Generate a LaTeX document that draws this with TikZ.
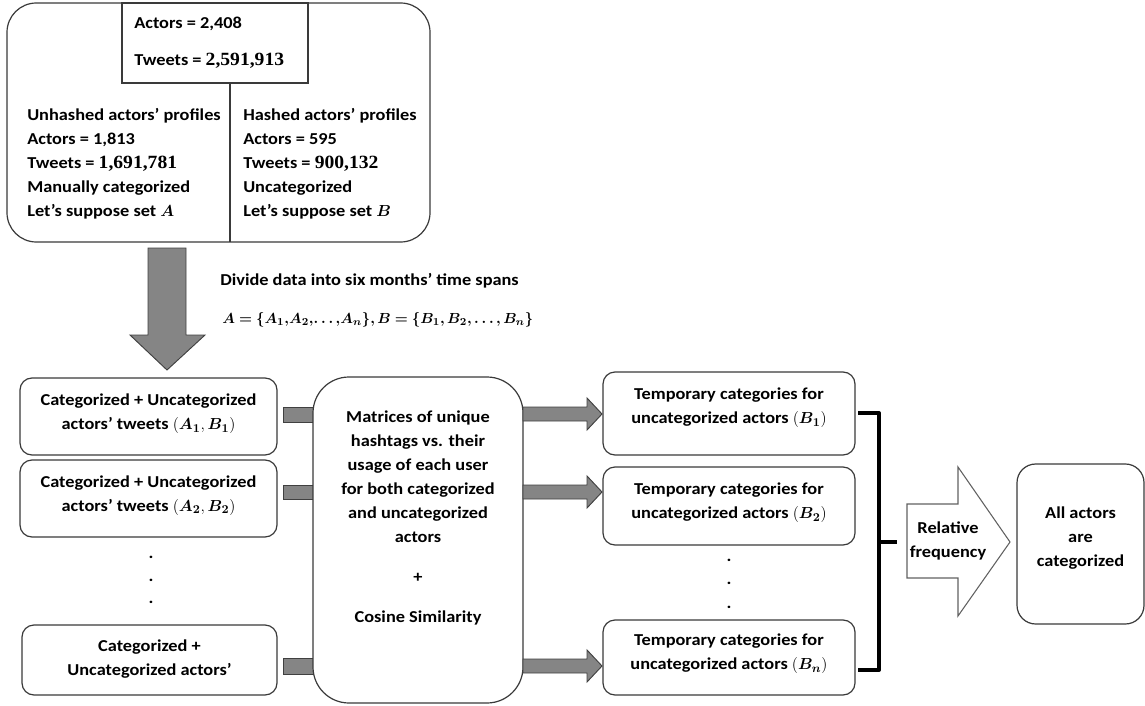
\documentclass[tikz,border=0pt]{standalone}
\usepackage{fontspec}
\usepackage{amsmath}
\usepackage{bm}
\setmainfont[FakeStretch=1.1]{Carlito}
\newfontfamily\serifnum[FakeStretch=1.05]{Liberation Serif}
\usetikzlibrary{calc}
\definecolor{linec}{HTML}{3A3A3A}
\definecolor{arrfill}{HTML}{858585}
\definecolor{arrline}{HTML}{404040}
\newcommand{\num}[1]{{\serifnum\bfseries\fontsize{14}{16}\selectfont #1}}
\tikzset{
  txt/.style={font=\bfseries\fontsize{12.5}{18}\selectfont, inner sep=0pt},
  rbox/.style={draw=linec, line width=0.9pt, fill=white, rounded corners=9pt, inner sep=0pt},
  garrow/.style={fill=arrfill, draw=arrline, line width=0.7pt},
  brace/.style={line width=3pt, line join=round},
}
\begin{document}
\begin{tikzpicture}[x=0.75pt,y=-0.75pt]
\useasboundingbox (0,0) rectangle (1145,706);
% ---------- top block
\node[rbox, rounded corners=22pt, minimum width=423*0.75pt, minimum height=239*0.75pt] (top) at (218.5,122.5) {};
\node[draw=linec, line width=0.9pt, fill=white, minimum width=186*0.75pt, minimum height=80*0.75pt, inner sep=0pt] (tot) at (215,43) {};
\coordinate (divt) at (230,83);
\coordinate (divb) at (230,242);
\draw[linec, line width=0.9pt] (divt) -- (divb);
\node[txt, anchor=west] (tot1) at (134,24) {Actors = 2,408};
\node[txt, anchor=west] (tot2) at (134,61) {Tweets = \num{2,591,913}};
\node[txt, anchor=north west, align=left] (colA) at (27,108) {Unhashed actors’ profiles\\Actors = 1,813\\Tweets = \num{1,691,781}\\Manually categorized\\Let’s suppose set $\bm{A}$};
\node[txt, anchor=north west, align=left] (colB) at (243,108) {Hashed actors’ profiles\\Actors = 595\\Tweets = \num{900,132}\\Uncategorized\\Let’s suppose set $\bm{B}$};
% ---------- down arrow
\draw[garrow] (148,248) -- (186,248) -- (186,335) -- (205,335) -- (167,370) -- (130,335) -- (148,335) -- cycle;
\node[txt, anchor=west] (divide) at (220,281) {Divide data into six months’ time spans};
\node[txt, anchor=west, font=\bfseries\fontsize{11.2}{14}\selectfont] (sets) at (222,320) {$\bm{A=\{A_1,\!A_2,\!\ldots,\!A_n\},B=\{B_1,B_2,\ldots,B_n\}}$};
% ---------- left arrows (behind the middle box)
\draw[garrow] (283,407) rectangle (318,422);
\draw[garrow] (283,485) rectangle (318,499);
\draw[garrow] (283,658) rectangle (318,674);
% ---------- left boxes
\node[rbox, minimum width=257*0.75pt, minimum height=77*0.75pt] (L1) at (148.5,416.5) {};
\node[txt, align=center] (L1t) at (148.5,414) {Categorized + Uncategorized\\actors’ tweets $(\bm{A_1},\bm{B_1})$};
\node[rbox, minimum width=257*0.75pt, minimum height=77*0.75pt] (L2) at (148.5,498.5) {};
\node[txt, align=center] (L2t) at (148.5,495.5) {Categorized + Uncategorized\\actors’ tweets $(\bm{A_2},\bm{B_2})$};
\node[txt] (Ld1) at (151,557) {.};
\node[txt] (Ld2) at (151,580) {.};
\node[txt] (Ld3) at (151,602) {.};
\node[rbox, minimum width=255*0.75pt, minimum height=70*0.75pt] (L3) at (149.5,660) {};
\node[txt, align=center] (L3t) at (149.5,659) {Categorized +\\Uncategorized actors’};
% ---------- middle box
\node[rbox, rounded corners=27pt, minimum width=210*0.75pt, minimum height=326*0.75pt] (mid) at (418,540) {};
\node[txt, align=center, anchor=north] (midt) at (418,411) {Matrices of unique\\hashtags vs. their\\usage of each user\\for both categorized\\and uncategorized\\actors\\[12pt]+\\[12pt]Cosine Similarity};
% ---------- right arrows
\draw[garrow] (523,407) -- (587,407) -- (587,398) -- (602,414) -- (587,430) -- (587,421) -- (523,421) -- cycle;
\draw[garrow] (523,485) -- (587,485) -- (587,476) -- (602,492) -- (587,508) -- (587,499) -- (523,499) -- cycle;
\draw[garrow] (523,659) -- (587,659) -- (587,650) -- (602,666) -- (587,682) -- (587,673) -- (523,673) -- cycle;
% ---------- right boxes
\node[rbox, minimum width=252*0.75pt, minimum height=83*0.75pt] (R1) at (729,413.5) {};
\node[txt, align=center] (R1t) at (729,408) {Temporary categories for\\uncategorized actors $(\bm{B_1})$};
\node[rbox, minimum width=252*0.75pt, minimum height=78*0.75pt] (R2) at (729,506) {};
\node[txt, align=center] (R2t) at (729,503) {Temporary categories for\\uncategorized actors $(\bm{B_2})$};
\node[txt] (Rd1) at (729,560) {.};
\node[txt] (Rd2) at (729,583) {.};
\node[txt] (Rd3) at (729,607) {.};
\node[rbox, minimum width=252*0.75pt, minimum height=75*0.75pt] (R3) at (729,657.5) {};
\node[txt, align=center] (R3t) at (729,654) {Temporary categories for\\uncategorized actors $(\bm{B_n})$};
% ---------- brace
\coordinate (bt) at (858,413);
\coordinate (bb) at (858,670);
\coordinate (bm) at (897,542);
\draw[brace] (bt) -- (879,413) -- (879,670) -- (bb);
\draw[brace] (879,542) -- (bm);
% ---------- big outline arrow
\draw[fill=white, draw=linec!80, line width=0.8pt] (907,504) -- (958,504) -- (958,467) -- (1010,542) -- (958,616) -- (958,578) -- (907,578) -- cycle;
\node[txt, align=center] (rel) at (948,541) {Relative\\frequency};
% ---------- final box
\node[rbox, rounded corners=14pt, minimum width=127*0.75pt, minimum height=160*0.75pt] (fin) at (1080.5,544) {};
\node[txt, align=center] (fint) at (1080.5,538.5) {All actors\\are\\categorized};
\end{tikzpicture}
\end{document}
